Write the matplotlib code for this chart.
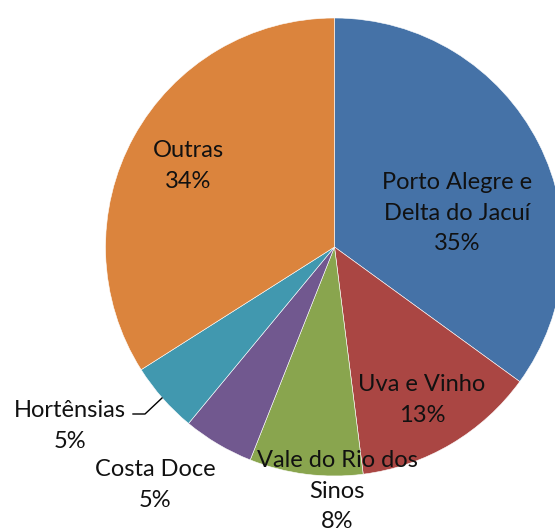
import matplotlib
matplotlib.use("Agg")
import matplotlib.pyplot as plt

labels = ["Porto Alegre e\nDelta do Jacuí", "Uva e Vinho", "Vale do Rio dos\nSinos", "Costa Doce", "Hortênsias", "Outras"]
values = [35, 13, 8, 5, 5, 34]
pct_labels = ["35%", "13%", "8%", "5%", "5%", "34%"]
colors = ["#4572A7", "#AA4643", "#89A54E", "#71588F", "#4198AF", "#DB843D"]

W, H = 555, 530
fig = plt.figure(figsize=(W / 100, H / 100), dpi=100)
ax = fig.add_axes([0, 0, 1, 1])

cx, cy, r = 334.5, H - 247, 229
ax.pie(values, colors=colors, startangle=90, counterclock=False,
       center=(cx, cy), radius=r, frame=True,
       wedgeprops=dict(linewidth=0.4, edgecolor="white"))
ax.set_xlim(0, W)
ax.set_ylim(0, H)
ax.set_aspect("equal")
ax.axis("off")

# label positions in pixel coords (x, y from top)
pos = [(457, 213), (422, 400), (337, 491), (155, 485), (70, 426), (188, 166)]
for lab, pct, (x, y) in zip(labels, pct_labels, pos):
    ax.text(x, H - y, lab + "\n" + pct, ha="center", va="center",
            fontsize=17, family=["Lato", "DejaVu Sans"], color="#111111",
            linespacing=1.55)

# leader line for Hortênsias
ax.plot([133, 145, 162], [H - 414, H - 414, H - 398], color="black", lw=1)

fig.savefig("out.png", dpi=100)
